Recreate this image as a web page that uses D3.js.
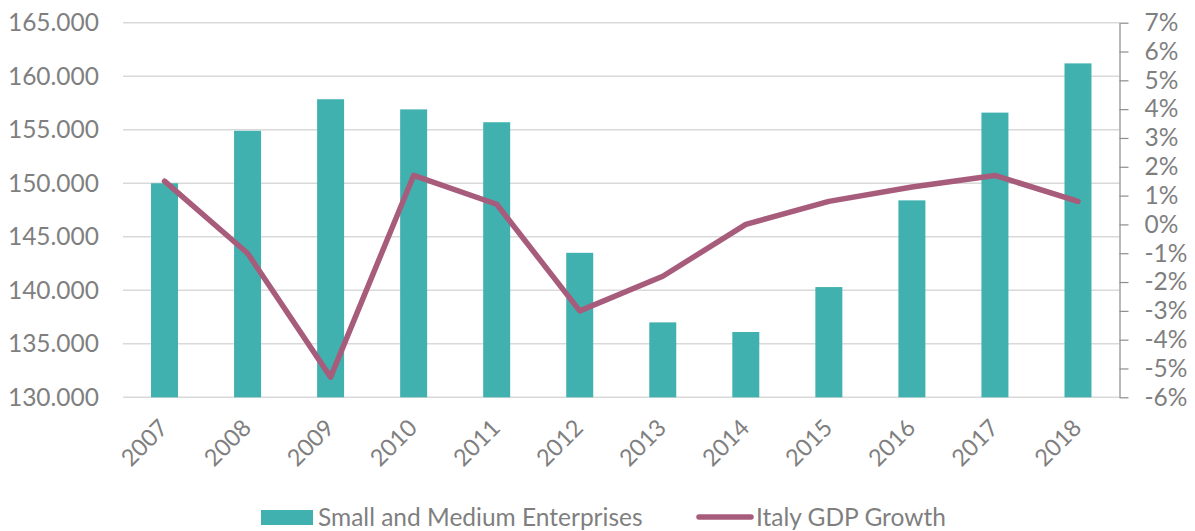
<!DOCTYPE html>
<html>
<head>
<meta charset="utf-8">
<script src="https://cdn.jsdelivr.net/npm/d3@7"></script>
<style>
  body { margin: 0; background: #fff; }
  svg { display: block; font-family: Lato, "Open Sans", sans-serif; }
</style>
</head>
<body>
<script>
var width = 1195,
    height = 531;

// data
var years = ["2007", "2008", "2009", "2010", "2011", "2012", "2013", "2014", "2015", "2016", "2017", "2018"];
var smeCount = [150000, 154900, 157850, 156900, 155700, 143500, 137000, 136100, 140300, 148400, 156600, 161200];
var gdpGrowth = [1.5, -1.0, -5.3, 1.7, 0.7, -3.0, -1.8, 0.0, 0.8, 1.3, 1.7, 0.8];
var leftTicks = [130000, 135000, 140000, 145000, 150000, 155000, 160000, 165000];
var rightTicks = [-6, -5, -4, -3, -2, -1, 0, 1, 2, 3, 4, 5, 6, 7];
var seriesNames = ["Small and Medium Enterprises", "Italy GDP Growth"];

var barColor = "#41b1b0",
    lineColor = "#a85c7b",
    gridColor = "#d9d9d9",
    textColor = "#7f7f7f";

var plotLeft = 123, plotRight = 1119.5, plotTop = 22.7, plotBottom = 397.3;
var fontSize = 24.5;

var svg = d3.select("body").append("svg")
    .attr("width", width)
    .attr("height", height);

var x = d3.scaleBand()
    .domain(years)
    .range([plotLeft, plotRight])
    .paddingInner(0.675)
    .paddingOuter(0.3375);

var y = d3.scaleLinear()
    .domain([130000, 165000])
    .range([plotBottom, plotTop]);

var y2 = d3.scaleLinear()
    .domain([-6, 7])
    .range([plotBottom, plotTop]);

var fmtLeft = function(d) { return d3.format(",d")(d).replace(",", "."); };

// gridlines
svg.append("g")
  .selectAll("line")
  .data(leftTicks)
  .enter().append("line")
    .attr("x1", plotLeft)
    .attr("x2", plotRight)
    .attr("y1", function(d) { return y(d); })
    .attr("y2", function(d) { return y(d); })
    .attr("stroke", gridColor)
    .attr("stroke-width", 1.5);

// left axis
var gLeft = svg.append("g")
    .attr("transform", "translate(" + plotLeft + ",0)")
    .call(d3.axisLeft(y).tickValues(leftTicks).tickFormat(fmtLeft).tickSize(0).tickPadding(24));
gLeft.attr("font-family", null).attr("font-size", fontSize);
gLeft.select(".domain").remove();
gLeft.selectAll("text").attr("fill", textColor);

// right axis
var gRight = svg.append("g")
    .attr("transform", "translate(" + plotRight + ",0)")
    .call(d3.axisRight(y2).tickValues(rightTicks).tickFormat(function(d) { return d + "%"; }).tickSize(9).tickSizeOuter(0).tickPadding(16));
gRight.attr("font-family", null).attr("font-size", fontSize);
gRight.select(".domain").attr("stroke", "#8c8c8c").attr("stroke-width", 1.2);
gRight.selectAll(".tick line").attr("stroke", "#8c8c8c").attr("stroke-width", 1.2);
gRight.selectAll("text").attr("fill", textColor).attr("text-anchor", "start");

// bars
svg.append("g")
  .selectAll("rect")
  .data(smeCount)
  .enter().append("rect")
    .attr("x", function(d, i) { return x(years[i]); })
    .attr("width", x.bandwidth())
    .attr("y", function(d) { return y(d); })
    .attr("height", function(d) { return plotBottom - y(d); })
    .attr("fill", barColor);

// x axis labels
var gBottom = svg.append("g")
    .attr("transform", "translate(0," + plotBottom + ")")
    .call(d3.axisBottom(x).tickSize(0).tickPadding(0));
gBottom.attr("font-family", null).attr("font-size", 23.5);
gBottom.select(".domain").remove();
gBottom.selectAll("text")
    .attr("fill", textColor)
    .attr("text-anchor", "end")
    .attr("y", 0)
    .attr("dy", null)
    .attr("transform", "translate(5,32) rotate(-45)");

// GDP line
var line = d3.line()
    .x(function(d, i) { return x(years[i]) + x.bandwidth() / 2; })
    .y(function(d) { return y2(d); });

svg.append("path")
    .datum(gdpGrowth)
    .attr("d", line)
    .attr("fill", "none")
    .attr("stroke", lineColor)
    .attr("stroke-width", 5.5)
    .attr("stroke-linecap", "round")
    .attr("stroke-linejoin", "round");

// legend
var legend = svg.append("g");
legend.append("rect")
    .attr("x", 261).attr("y", 510)
    .attr("width", 52).attr("height", 15)
    .attr("fill", barColor);
legend.append("text")
    .attr("x", 318).attr("y", 526)
    .attr("font-size", fontSize)
    .attr("fill", textColor)
    .text(seriesNames[0]);
legend.append("line")
    .attr("x1", 699).attr("x2", 751)
    .attr("y1", 517).attr("y2", 517)
    .attr("stroke", lineColor)
    .attr("stroke-width", 5.5)
    .attr("stroke-linecap", "round");
legend.append("text")
    .attr("x", 756).attr("y", 526)
    .attr("font-size", fontSize)
    .attr("fill", textColor)
    .text(seriesNames[1]);
</script>
</body>
</html>
